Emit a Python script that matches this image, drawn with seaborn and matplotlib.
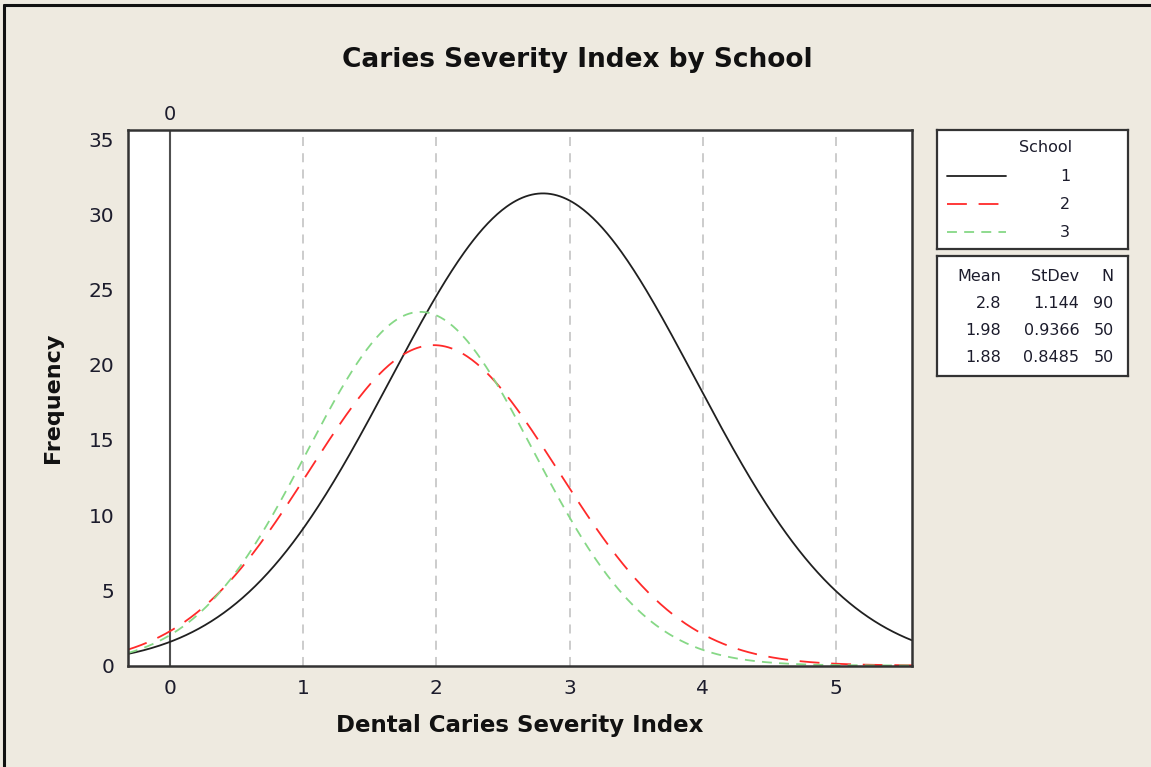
import numpy as np
import pandas as pd
import matplotlib
matplotlib.use("Agg")
import matplotlib.pyplot as plt
import seaborn as sns
from matplotlib.lines import Line2D
from matplotlib.transforms import blended_transform_factory

schools = ["1", "2", "3"]
means = [2.8, 1.98, 1.88]
stdevs = [1.144, 0.9366, 0.8485]
counts = [90, 50, 50]
mean_labels = ["2.8", "1.98", "1.88"]
stdev_labels = ["1.144", "0.9366", "0.8485"]
count_labels = ["90", "50", "50"]
x_ticks = [0, 1, 2, 3, 4, 5]
y_ticks = [0, 5, 10, 15, 20, 25, 30, 35]
bin_width = 1.0

# fitted normal curves (Minitab-style "Frequency" scale = N * binwidth * pdf)
xmin, xmax = -0.315, 5.57
xs = np.linspace(xmin, xmax, 500)
rows = []
for s, m, sd, n in zip(schools, means, stdevs, counts):
    pdf = np.exp(-0.5 * ((xs - m) / sd) ** 2) / (sd * np.sqrt(2 * np.pi))
    rows.append(pd.DataFrame({"x": xs, "Frequency": n * bin_width * pdf, "School": s}))
df = pd.concat(rows, ignore_index=True)

BG = "#EEEAE0"
INK = "#1c1c2c"
colors = {"1": "#202020", "2": "#FF2A2A", "3": "#86D886"}
dashes = {"1": "", "2": (11, 6.5), "3": (5.5, 4)}

sns.set_style("white")
plt.rcParams["font.family"] = ["DejaVu Sans"]

fig = plt.figure(figsize=(11.51, 7.67), dpi=100, facecolor=BG)
W, H = 1151, 767
ax = fig.add_axes([128 / W, 1 - 665.5 / H, (912 - 128) / W, (665.5 - 130) / H])
ax.set_facecolor("white")

sns.lineplot(data=df, x="x", y="Frequency", hue="School", style="School",
             palette=colors, dashes=dashes, linewidth=1.3, legend=False, ax=ax)

ax.set_xlim(xmin, xmax)
ax.set_ylim(0, 35.6)
ax.set_xticks(x_ticks)
ax.set_yticks(y_ticks)
for xv in x_ticks[1:]:
    ax.axvline(xv, color="#C8C8C8", lw=1.3, ls=(0, (5, 4)), zorder=0)
ax.axvline(0, color="#505050", lw=1.5, zorder=1)
trans = blended_transform_factory(ax.transData, ax.transAxes)
ax.text(0, 1.012, "0", transform=trans, ha="center", va="bottom", fontsize=14, color=INK)

for sp in ax.spines.values():
    sp.set_color("#333333")
    sp.set_linewidth(1.8)
ax.tick_params(axis="both", direction="out", length=6, width=1.5, color="#333333",
               labelsize=14.5, labelcolor=INK, pad=4)
ax.set_xlabel("Dental Caries Severity Index", fontsize=16.5, fontweight="bold", color="#111111", labelpad=11)
ax.set_ylabel("Frequency", fontsize=16, fontweight="bold", color="#111111", labelpad=18)
fig.text(577 / W, 1 - 60 / H, "Caries Severity Index by School", ha="center", va="center",
         fontsize=19, fontweight="bold", color="#111111")

LFS = 11.5
# ---- legend box 1 (School) ----
lg = fig.add_axes([937 / W, 1 - 249 / H, (1128 - 937) / W, (249 - 130) / H])
lg.set_xlim(0, 1); lg.set_ylim(0, 1)
lg.set_xticks([]); lg.set_yticks([])
lg.set_facecolor("white")
for sp in lg.spines.values():
    sp.set_color("#333333"); sp.set_linewidth(1.6)
lg.text(0.57, 0.85, "School", ha="center", va="center", fontsize=LFS, color=INK)
for i, s in enumerate(schools):
    yy = 0.61 - i * 0.235
    h = Line2D([0.05, 0.36], [yy, yy], color=colors[s], lw=1.3, transform=lg.transAxes)
    if dashes[s]:
        h.set_dashes(dashes[s])
    lg.add_line(h)
    lg.text(0.67, yy, s, ha="center", va="center", fontsize=LFS, color=INK)

# ---- legend box 2 (stats table) ----
tb = fig.add_axes([937 / W, 1 - 376 / H, (1128 - 937) / W, (376 - 256) / H])
tb.set_xlim(0, 1); tb.set_ylim(0, 1)
tb.set_xticks([]); tb.set_yticks([])
tb.set_facecolor("white")
for sp in tb.spines.values():
    sp.set_color("#333333"); sp.set_linewidth(1.6)
cols_x = [0.335, 0.745, 0.925]
heads = ["Mean", "StDev", "N"]
for cx, hd in zip(cols_x, heads):
    tb.text(cx, 0.83, hd, ha="right", va="center", fontsize=LFS, color=INK)
for i in range(len(schools)):
    yy = 0.6 - i * 0.225
    for cx, val in zip(cols_x, [mean_labels[i], stdev_labels[i], count_labels[i]]):
        tb.text(cx, yy, val, ha="right", va="center", fontsize=LFS, color=INK)

# ---- outer frame lines (top / left) ----
fig.add_artist(Line2D([4 / W, 4 / W], [0, 1 - 5 / H], color="#111111", lw=2.2, transform=fig.transFigure))
fig.add_artist(Line2D([4 / W, 1], [1 - 5 / H, 1 - 5 / H], color="#111111", lw=2.2, transform=fig.transFigure))

fig.savefig("out.png", dpi=100, facecolor=BG)
